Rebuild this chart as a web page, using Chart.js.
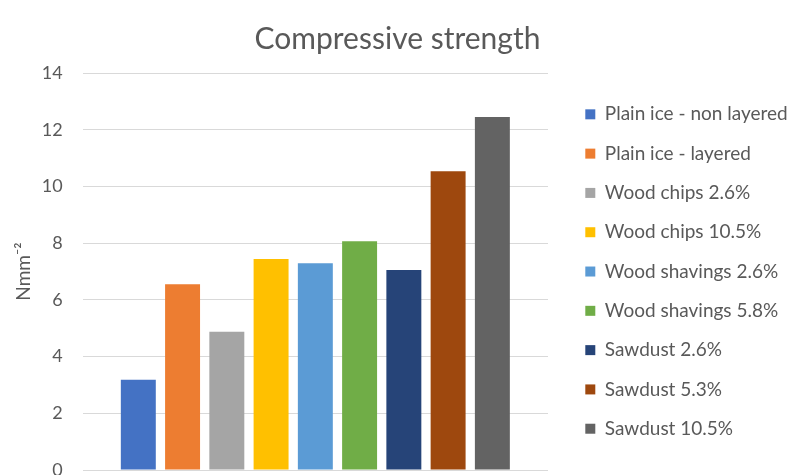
<!DOCTYPE html>
<html>
<head>
<meta charset="utf-8">
<script src="https://cdn.jsdelivr.net/npm/chart.js@4"></script>
<style>
  html, body { margin: 0; padding: 0; background: #fff; }
  #wrap { width: 787px; height: 475px; }
</style>
</head>
<body>
<div id="wrap"><canvas id="grafico"></canvas></div>
<script>
// data
const seriesNames = [
  "Plain ice - non layered",
  "Plain ice - layered",
  "Wood chips 2.6%",
  "Wood chips 10.5%",
  "Wood shavings 2.6%",
  "Wood shavings 5.8%",
  "Sawdust 2.6%",
  "Sawdust 5.3%",
  "Sawdust 10.5%",
];
const strengthValues = [3.18, 6.55, 4.88, 7.44, 7.29, 8.07, 7.05, 10.54, 12.45];
const seriesColors = [
  "#4472C4", "#ED7D31", "#A5A5A5", "#FFC000", "#5B9BD5",
  "#70AD47", "#264478", "#9E480E", "#636363",
];
const yTicks = [0, 2, 4, 6, 8, 10, 12, 14];

const textColor = "#595959";
const fontName = "Lato, 'Liberation Sans', sans-serif";
const legendWidth = 239;
const legendShift = 17;

// fixed legend box, pushed right of the plot like Excel
const legendGap = {
  id: "legendGap",
  beforeInit(chart) {
    const fit = chart.legend.fit;
    chart.legend.fit = function () {
      fit.bind(chart.legend)();
      this.width = legendWidth;
    };
  },
  afterLayout(chart) {
    chart.legend.left += legendShift;
    chart.legend.right += legendShift;
  },
};

var ctx = document.getElementById("grafico").getContext("2d");
var myChart = new Chart(ctx, {
  type: "bar",
  data: {
    labels: [""],
    datasets: seriesNames.map(function (name, i) {
      return {
        label: name,
        data: [strengthValues[i]],
        backgroundColor: seriesColors[i],
        borderWidth: 0,
        categoryPercentage: 0.856,
        barPercentage: 0.79,
      };
    }),
  },
  plugins: [legendGap],
  options: {
    animation: false,
    responsive: true,
    maintainAspectRatio: false,
    layout: { padding: { left: 8, right: 0, top: 0, bottom: 0 } },
    plugins: {
      title: {
        display: true,
        text: "Compressive strength",
        color: textColor,
        font: { family: fontName, size: 30, weight: "normal" },
        padding: { top: 21, bottom: 16 },
      },
      legend: {
        position: "right",
        fullSize: false,
        labels: {
          color: textColor,
          font: { family: fontName, size: 19 },
          boxWidth: 10,
          boxHeight: 10,
          padding: 20.3,
        },
      },
      tooltip: { enabled: false },
    },
    scales: {
      x: { display: false },
      y: {
        min: 0,
        max: 14,
        afterBuildTicks: function (axis) {
          axis.ticks = yTicks.map(function (v) { return { value: v }; });
        },
        border: { display: false },
        grid: {
          color: "#D9D9D9",
          lineWidth: 1,
          drawTicks: true,
          tickLength: 20,
          tickColor: "rgba(0,0,0,0)",
        },
        ticks: {
          color: textColor,
          font: { family: fontName, size: 18, lineHeight: 0.55 },
          padding: 0,
        },
        title: {
          display: true,
          text: "Nmm\u207B\u00B2",
          color: textColor,
          font: { family: fontName, size: 19 },
          padding: { top: 4, bottom: 7 },
        },
      },
    },
  },
});
</script>
</body>
</html>
